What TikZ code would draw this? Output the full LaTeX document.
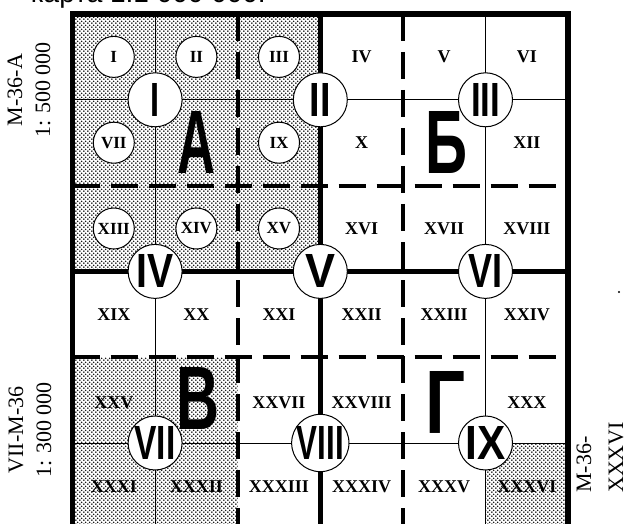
\documentclass[tikz,border=0pt]{standalone}
\usepackage{fontspec}
\usepackage{graphicx}
\setmainfont{Liberation Serif}
\newfontfamily\bigsans{Liberation Sans}
\usetikzlibrary{patterns.meta}
\tikzdeclarepattern{name=stipple,type=uncolored,
  bounding box={(0pt,0pt) and (4.2pt,4.2pt)},
  tile size={(4.2pt,4.2pt)},
  code={\fill (1.05pt,1.05pt) circle (0.95pt); \fill (3.15pt,3.15pt) circle (0.95pt);}}
\newcommand\bnum[2]{\resizebox{#1pt}{33pt}{\bigsans\bfseries #2}}
\newcommand\blet[2]{\resizebox{#1pt}{62pt}{\bigsans\bfseries #2}}
\begin{document}
\begin{tikzpicture}[x=1pt,y=-1pt,
  thinl/.style={line width=1pt},
  thickl/.style={line width=5pt},
  dashl/.style={line width=4pt, dash pattern=on 27pt off 11pt},
  framel/.style={line width=5.5pt},
  shade/.style={pattern=stipple, pattern color=black},
  num/.style={inner sep=0pt, font=\bfseries\fontsize{18}{18}\selectfont},
  smallc/.style={circle, draw, fill=white, line width=1pt, minimum size=41pt, inner sep=0pt, font=\bfseries\fontsize{17}{17}\selectfont},
  bigc/.style={circle, draw, fill=white, line width=1pt, minimum size=54pt, inner sep=0pt},
  bigl/.style={inner sep=0pt},
  side/.style={rotate=90, align=center, inner sep=0pt, font=\fontsize{22}{28}\selectfont}
]
\useasboundingbox (0,0) rectangle (627,524);
% cropped caption line
\node[anchor=base east, inner sep=0pt, font=\bigsans\fontsize{28}{28}\selectfont] (cap) at (266,3) {карта 1:1 000 000.};
% shading
\fill[shade] (72.5,14) rectangle (320.3,271.4);
\fill[shade] (72.5,357.2) rectangle (237.7,528.8);
\fill[shade] (485.5,443) rectangle (568.1,528.8);
% thin lines
\draw[thinl] (155.1,14) -- (155.1,530);
\draw[thinl] (485.5,14) -- (485.5,530);
\draw[thinl] (72.5,99.8) -- (568.1,99.8);
\draw[thinl] (72.5,443) -- (568.1,443);
% dashed lines
\draw[dashl] (237.7,14) -- (237.7,530);
\draw[dashl] (402.9,14) -- (402.9,530);
\draw[dashl] (72.5,185.6) -- (568.1,185.6);
\draw[dashl] (72.5,357.2) -- (568.1,357.2);
% thick lines
\draw[thickl] (320.3,14) -- (320.3,530);
\draw[thickl] (72.5,271.4) -- (568.1,271.4);
% frame
\draw[framel] (72.5,14) rectangle (568.1,528.8);
% small circles in quadrant A
\node[smallc] (s1) at (113.8,56.9) {I};
\node[smallc] (s2) at (196.4,56.9) {II};
\node[smallc] (s3) at (279,56.9) {III};
\node[smallc] (s7) at (113.8,142.7) {VII};
\node[smallc] (s9) at (279,142.7) {IX};
\node[smallc] (s13) at (113.8,228.5) {XIII};
\node[smallc] (s14) at (196.4,228.5) {XIV};
\node[smallc] (s15) at (279,228.5) {XV};
% plain cell numbers
\node[num] (n4) at (361.6,56.9) {IV};
\node[num] (n5) at (444.2,56.9) {V};
\node[num] (n6) at (526.8,56.9) {VI};
\node[num] (n10) at (361.6,142.7) {X};
\node[num] (n12) at (526.8,142.7) {XII};
\node[num] (n16) at (361.6,228.5) {XVI};
\node[num] (n17) at (444.2,228.5) {XVII};
\node[num] (n18) at (526.8,228.5) {XVIII};
\node[num] (n19) at (113.8,314.3) {XIX};
\node[num] (n20) at (196.4,314.3) {XX};
\node[num] (n21) at (279,314.3) {XXI};
\node[num] (n22) at (361.6,314.3) {XXII};
\node[num] (n23) at (444.2,314.3) {XXIII};
\node[num] (n24) at (526.8,314.3) {XXIV};
\node[num] (n25) at (113.8,403) {XXV};
\node[num] (n27) at (279,403) {XXVII};
\node[num] (n28) at (361.6,403) {XXVIII};
\node[num] (n30) at (526.8,403) {XXX};
\node[num] (n31) at (113.8,486.5) {XXXI};
\node[num] (n32) at (196.4,486.5) {XXXII};
\node[num] (n33) at (279,486.5) {XXXIII};
\node[num] (n34) at (361.6,486.5) {XXXIV};
\node[num] (n35) at (444.2,486.5) {XXXV};
\node[num] (n36) at (526.8,486.5) {XXXVI};
% big letters
\node[bigl] (qA) at (197,142.7) {\blet{38}{А}};
\node[bigl] (qB) at (446,142.7) {\blet{42}{Б}};
\node[bigl] (qV) at (198,398) {\blet{43}{В}};
\node[bigl] (qG) at (445,402) {\blet{40}{Г}};
% big circles
\node[bigc] (b1) at (155.1,99.8) {\bnum{9}{I}};
\node[bigc] (b2) at (320.3,99.8) {\bnum{21}{II}};
\node[bigc] (b3) at (485.5,99.8) {\bnum{29}{III}};
\node[bigc] (b4) at (155.1,271.4) {\bnum{37}{IV}};
\node[bigc] (b5) at (320.3,271.4) {\bnum{30}{V}};
\node[bigc] (b6) at (485.5,271.4) {\bnum{34}{VI}};
\node[bigc] (b7) at (155.1,443) {\bnum{41}{VII}};
\node[bigc] (b8) at (320.3,443) {\bnum{47}{VIII}};
\node[bigc] (b9) at (485.5,443) {\bnum{40}{IX}};
% side labels
\node[side] (lA) at (29,90) {М-36-А\\1: 500 000};
\node[side] (lV) at (30,430) {VII-М-36\\1: 300 000};
\node[rotate=90, anchor=west, align=left, inner sep=0pt, font=\fontsize{22}{32}\selectfont] (lR) at (600,493) {М-36-\\XXXVI};
\fill (619,292) circle (1.2);
\end{tikzpicture}
\end{document}
